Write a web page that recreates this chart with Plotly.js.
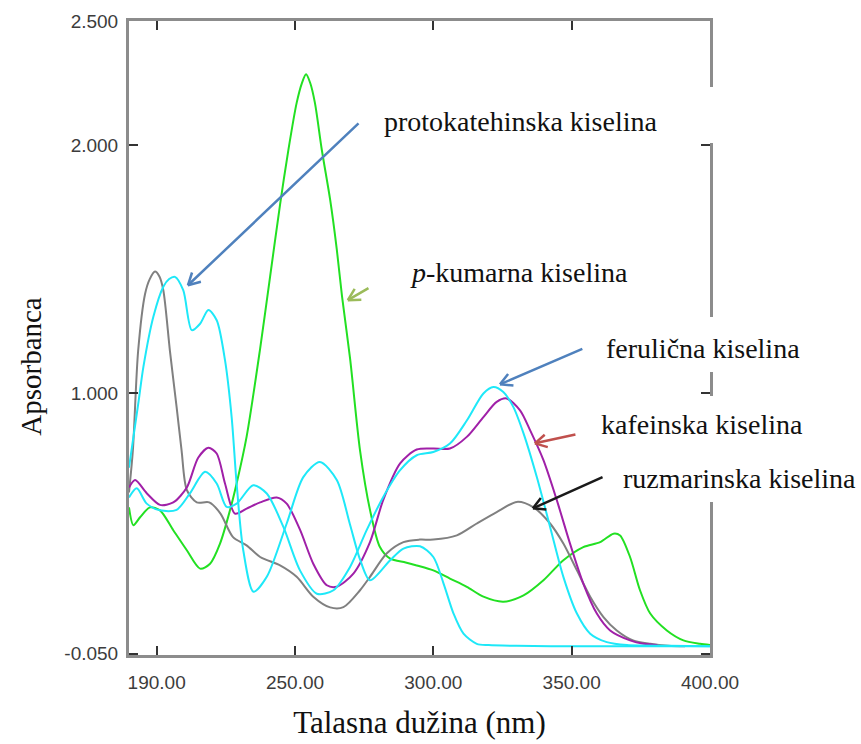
<!DOCTYPE html>
<html>
<head>
<meta charset="utf-8">
<script src="https://cdn.plot.ly/plotly-3.0.1.min.js"></script>
<style>html,body{margin:0;padding:0;background:#fff;}#chart{width:861px;height:744px;}</style>
</head>
<body>
<div id="chart"></div>
<script>
// ---- data ----
const xTickVals = [200, 250, 300, 350, 400];
const xTickText = ["190.00", "250.00", "300.00", "350.00", "400.00"];
const yTickVals = [-0.05, 1.0, 2.0, 2.5];
const yTickText = ["-0.050", "1.000", "2.000", "2.500"];

// p-kumarna kiselina (green)
const greenX = [190, 191.6, 194, 197.6, 201.2, 206, 210.9, 215.7, 219.3, 222.9, 226.5, 228.9, 232.5, 237.4, 241, 244.6, 247.6, 250.6, 252.5, 254, 255.5, 257.2, 259.7, 262.7, 265.1, 267, 269.9, 273.5, 277.1, 280.7, 284.4, 290, 294, 300, 306, 312.1, 318.1, 325.3, 332.6, 339.8, 347, 354.2, 360.3, 365.1, 367.5, 371.1, 374.7, 378.4, 384.4, 390.4, 396.4, 400];
const greenY = [0.54, 0.468, 0.50, 0.54, 0.528, 0.448, 0.367, 0.293, 0.313, 0.394, 0.528, 0.636, 0.824, 1.18, 1.47, 1.76, 1.98, 2.17, 2.25, 2.285, 2.25, 2.17, 1.98, 1.78, 1.58, 1.39, 1.14, 0.77, 0.53, 0.38, 0.333, 0.318, 0.306, 0.286, 0.253, 0.22, 0.18, 0.16, 0.185, 0.246, 0.327, 0.38, 0.40, 0.434, 0.427, 0.34, 0.206, 0.112, 0.044, 0.004, -0.01, -0.015];

// ruzmarinska kiselina (gray)
const grayX = [190, 191.4, 193.3, 195.8, 197.5, 199.4, 201, 202.4, 204.8, 207.2, 209, 210.9, 214.5, 219, 223, 227.6, 232.5, 237.4, 244.6, 250.6, 256.6, 262.7, 267.5, 273.5, 277.1, 283.2, 289.2, 295, 300, 308.5, 315.7, 322.9, 330.2, 336.2, 342.2, 347, 351.9, 356.7, 361.5, 366.3, 372.2, 378.4, 385, 391];
const grayY = [0.60, 0.77, 1.17, 1.40, 1.46, 1.49, 1.47, 1.415, 1.17, 0.945, 0.77, 0.61, 0.56, 0.56, 0.516, 0.42, 0.387, 0.34, 0.306, 0.26, 0.18, 0.137, 0.138, 0.206, 0.26, 0.355, 0.40, 0.41, 0.41, 0.427, 0.475, 0.521, 0.562, 0.54, 0.475, 0.394, 0.286, 0.18, 0.098, 0.044, 0.004, -0.01, -0.018, -0.02];

// kafeinska kiselina (purple)
const purpleX = [190, 192.2, 196.4, 201.2, 206, 210.9, 215, 218.7, 221.7, 224.7, 228.3, 232.5, 237.4, 243.4, 247, 251.8, 256.6, 261.5, 265.1, 271.1, 277.1, 281.9, 288, 294, 300, 306, 312.1, 318.1, 322.9, 326.5, 331.4, 335, 339.8, 344.6, 349.4, 354.2, 359.1, 363.9, 371.1, 376, 381];
const purpleY = [0.62, 0.65, 0.597, 0.55, 0.56, 0.62, 0.74, 0.78, 0.757, 0.636, 0.515, 0.535, 0.56, 0.58, 0.555, 0.45, 0.313, 0.226, 0.22, 0.273, 0.40, 0.57, 0.717, 0.773, 0.777, 0.777, 0.824, 0.904, 0.965, 0.979, 0.93, 0.85, 0.73, 0.57, 0.394, 0.233, 0.112, 0.044, 0.004, -0.01, -0.015];

// protokatehinska kiselina (cyan)
const protoX = [190, 191.6, 193.5, 195.2, 198.8, 202.4, 204.5, 206.6, 209.6, 212.7, 215.7, 218.7, 221.7, 224.7, 227.1, 228.9, 231.3, 235, 239.8, 247, 253, 259, 265.1, 269.9, 273.5, 277.1, 284.4, 289.2, 295.2, 300, 303.7, 307.3, 310.9, 315.7, 320, 330, 350, 400];
const protoY = [0.70, 0.824, 0.97, 1.106, 1.308, 1.429, 1.46, 1.469, 1.415, 1.254, 1.28, 1.335, 1.294, 1.133, 0.904, 0.636, 0.367, 0.2, 0.26, 0.475, 0.662, 0.723, 0.65, 0.47, 0.33, 0.246, 0.327, 0.374, 0.383, 0.34, 0.233, 0.112, 0.031, -0.01, -0.015, -0.018, -0.02, -0.02];

// ferulična kiselina (cyan)
const feruX = [190, 192.8, 196.4, 201.2, 207.2, 212, 217.5, 221.7, 225.3, 228.9, 234.9, 239.8, 245.8, 251.8, 257.9, 263.9, 269.9, 275.9, 281.9, 288, 294, 300, 306, 312.1, 318.1, 321.7, 325.3, 328.9, 332.6, 337.4, 342.2, 347, 351.9, 356.7, 362.7, 370, 385, 400];
const feruY = [0.58, 0.617, 0.555, 0.528, 0.53, 0.596, 0.683, 0.636, 0.542, 0.555, 0.629, 0.596, 0.461, 0.286, 0.192, 0.206, 0.30, 0.448, 0.582, 0.69, 0.75, 0.763, 0.797, 0.89, 0.999, 1.025, 1.005, 0.945, 0.838, 0.662, 0.461, 0.26, 0.112, 0.031, -0.003, -0.015, -0.018, -0.02];

// labels and arrows
const labelTexts = ["protokatehinska kiselina", "<i>p</i>-kumarna kiselina", "ferulična kiselina", "kafeinska kiselina", "ruzmarinska kiselina"];
const labelX = [0.435, 0.480, 0.817, 0.809, 0.847];
const labelY = [0.841, 0.604, 0.484, 0.363, 0.279];
const arrowHeadX = [211.3, 269.1, 324.1, 336.7, 336.0];
const arrowHeadY = [1.435, 1.375, 1.036, 0.798, 0.536];
const arrowTailX = [273.5, 277.1, 354.4, 351.9, 361.7];
const arrowTailY = [2.093, 1.427, 1.181, 0.835, 0.665];
const arrowColors = ["#4f81bd", "#9bbb59", "#4f81bd", "#c0504d", "#1a1a1a"];
const yTitle = "Apsorbanca";
const xTitle = "Talasna dužina (nm)";

// ---- chart ----
const X_RANGE = [190, 400];
const Y_RANGE = [-0.055, 2.5];
const W = 861, H = 744;
const M = {l: 129, r: 151, t: 21, b: 89};

function line(x, y, color) {
  return {x: x, y: y, type: 'scatter', mode: 'lines',
    line: {color: color, width: 2, shape: 'spline', smoothing: 0.8},
    hoverinfo: 'skip', showlegend: false};
}
const traces = [
  line(greenX, greenY, '#22e022'),
  line(grayX, grayY, '#808080'),
  line(purpleX, purpleY, '#a020a8'),
  line(feruX, feruY, '#1ee8f8'),
  line(protoX, protoY, '#1ee8f8')
];

const annotations = [];
const serif = 'Liberation Serif';
labelTexts.forEach(function (t, i) {
  annotations.push({text: t, xref: 'paper', yref: 'paper', x: labelX[i], y: labelY[i],
    xanchor: 'left', yanchor: 'middle', showarrow: false,
    font: {family: serif, size: 28, color: '#111'}});
});
// y-axis title (placed as in the reference, a little below the axis middle)
annotations.push({text: yTitle, xref: 'paper', yref: 'paper', x: -0.170, y: 0.455,
  xanchor: 'center', yanchor: 'middle', textangle: -90, showarrow: false,
  font: {family: serif, size: 29, color: '#111'}});

const xs = (W - M.l - M.r) / (X_RANGE[1] - X_RANGE[0]);
const ys = (H - M.t - M.b) / (Y_RANGE[1] - Y_RANGE[0]);
arrowHeadX.forEach(function (hx, i) {
  const c = arrowColors[i];
  annotations.push({text: '', x: hx, y: arrowHeadY[i], xref: 'x', yref: 'y',
    ax: arrowTailX[i], ay: arrowTailY[i], axref: 'x', ayref: 'y',
    showarrow: true, arrowhead: 0, arrowwidth: 2.5, arrowcolor: c, standoff: 0});
  const dx = (arrowTailX[i] - hx) * xs;
  const dy = -(arrowTailY[i] - arrowHeadY[i]) * ys;
  const th = Math.atan2(dy, dx);
  [-0.5, 0.5].forEach(function (a) {
    annotations.push({text: '', x: hx, y: arrowHeadY[i], xref: 'x', yref: 'y',
      ax: 15 * Math.cos(th + a), ay: 15 * Math.sin(th + a),
      showarrow: true, arrowhead: 0, arrowwidth: 2.5, arrowcolor: c, standoff: 0});
  });
});

// white boxes of the labels that hide parts of the right frame
const gapY = [[0.8076, 0.8959], [0.4464, 0.5331], [0.2413, 0.4085]];
const shapes = gapY.map(function (g) {
  return {type: 'rect', xref: 'paper', yref: 'paper', x0: 0.985, x1: 1.04, y0: g[0], y1: g[1],
    fillcolor: '#ffffff', line: {width: 0}, layer: 'above'};
});

const tickFont = {family: 'Liberation Sans', size: 19, color: '#3c3c3c'};
const layout = {
  width: W, height: H, margin: M,
  paper_bgcolor: '#ffffff', plot_bgcolor: '#ffffff',
  showlegend: false,
  xaxis: {range: X_RANGE, tickmode: 'array', tickvals: xTickVals, ticktext: xTickText,
    showline: true, linecolor: '#8c8c8c', linewidth: 3, mirror: 'ticks',
    ticks: 'inside', ticklen: 9, tickwidth: 2, tickcolor: '#333',
    showgrid: false, zeroline: false, tickfont: tickFont, ticklabelstandoff: 8,
    title: {text: xTitle, font: {family: serif, size: 31, color: '#111'}, standoff: 20}},
  yaxis: {range: Y_RANGE, tickmode: 'array', tickvals: yTickVals, ticktext: yTickText,
    showline: true, linecolor: '#8c8c8c', linewidth: 3, mirror: 'ticks',
    ticks: 'inside', ticklen: 9, tickwidth: 2, tickcolor: '#333',
    showgrid: false, zeroline: false, tickfont: tickFont, ticklabelstandoff: 4},
  annotations: annotations,
  shapes: shapes
};
Plotly.newPlot('chart', traces, layout, {staticPlot: true, displayModeBar: false});
</script>
</body>
</html>
